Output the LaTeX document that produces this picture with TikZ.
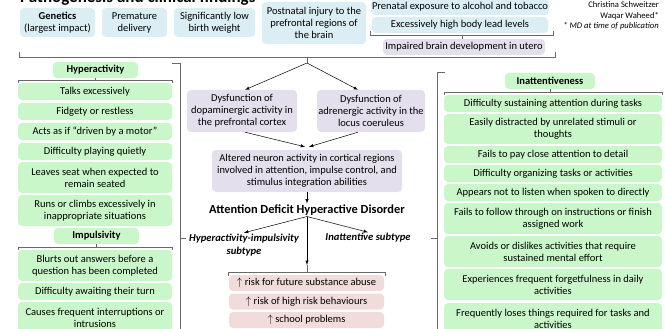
\documentclass[tikz,border=0pt]{standalone}
\usepackage{fontspec}
\setmainfont{Carlito}

\definecolor{causeblue}{RGB}{219,238,244}
\definecolor{signgreen}{RGB}{202,247,202}
\definecolor{mechpurple}{RGB}{228,223,236}
\definecolor{riskpink}{RGB}{242,220,219}
\definecolor{bracegray}{RGB}{105,105,105}

\tikzset{
    box/.style={rounded corners=4pt, align=center, inner sep=1pt, font=\fontsize{10.5}{12}\selectfont},
    cause/.style={box, fill=causeblue},
    sign/.style={box, fill=signgreen},
    signhead/.style={sign, font=\fontsize{10.5}{12}\selectfont\bfseries, minimum height=16},
    mech/.style={box, fill=mechpurple},
    risk/.style={box, fill=riskpink, minimum width=155, minimum height=16},
    brace/.style={bracegray, line width=0.6pt},
    link/.style={->, >=latex, line width=0.5pt},
    subtype/.style={align=center, inner sep=1pt, font=\fontsize{10.6}{13}\selectfont\bfseries\itshape}
}

\begin{document}
\begin{tikzpicture}[x=1pt, y=-1pt]
        \useasboundingbox (0,0) rectangle (665,329);

        % title (cut off at the top)
        \node[anchor=base west, inner sep=0pt, font=\fontsize{17}{17}\selectfont\bfseries] (title) at (20,2.5) {Pathogenesis and clinical findings};

        \node[anchor=east, align=right, inner sep=0pt, font=\fontsize{8.6}{10.5}\selectfont] (authors) at (659,16) {Christina Schweitzer\\Waqar Waheed*\\\textit{* MD at time of publication}};

        % causes
        \node[cause, minimum width=75, minimum height=29] (genetics) at (57.5,22.5) {\textbf{Genetics}\\(largest impact)};
        \node[cause, minimum width=65, minimum height=29] (premature) at (134.5,22.5) {Premature\\delivery};
        \node[cause, minimum width=81, minimum height=29] (weight) at (214.5,22.5) {Significantly low\\birth weight};
        \node[cause, minimum width=104, minimum height=42] (injury) at (314,23) {Postnatal injury to the\\prefrontal regions of\\the brain};
        \node[cause, minimum width=176, minimum height=16] (alcohol) at (460,7) {Prenatal exposure to alcohol and tobacco};
        \node[cause, minimum width=176, minimum height=16] (lead) at (460,25) {Excessively high body lead levels};
        \node[mech, minimum width=162, minimum height=16] (utero) at (464,47) {Impaired brain development in utero};

        \draw[brace] (370,31) -- (370,35) -- (553,35) -- (553,31);
        \draw[brace] (462,35) -- (utero.north -| 462,0);

        \draw[brace] (19,52) -- (19,57) -- (555,57) -- (555,52);
        \draw[brace] (307,57) -- (307,63) coordinate (split);

        % mechanism
        \node[mech, minimum width=110, minimum height=42] (dopa) at (242,111) {Dysfunction of\\dopaminergic activity in\\the prefrontal cortex};
        \node[mech, minimum width=108, minimum height=42] (adren) at (371,111) {Dysfunction of\\adrenergic activity in the\\locus coeruleus};
        \draw[link] (split) -- ([xshift=3]dopa.north);
        \draw[link] (split) -- ([xshift=-13]adren.north);

        \node[mech, minimum width=190, minimum height=42] (altered) at (307,171) {Altered neuron activity in cortical regions\\involved in attention, impulse control, and\\stimulus integration abilities};
        \draw[link] ([xshift=3]dopa.south) -- ([xshift=-2,yshift=3]altered.north);
        \draw[link] ([xshift=-13]adren.south) -- ([xshift=2,yshift=3]altered.north);

        \node[inner sep=1pt, font=\fontsize{12.4}{14}\selectfont\bfseries] (adhd) at (307,210) {Attention Deficit Hyperactive Disorder};
        \draw[link] (altered.south) -- (adhd.north);

        \node[subtype] (hisub) at (244,245) {Hyperactivity-impulsivity\\subtype};
        \node[subtype] (insub) at (368,238) {Inattentive subtype};
        \draw[link] (adhd.south) -- (hisub.north);
        \draw[link] (adhd.south) -- (insub.north);

        \coordinate (riskin) at (307,265);
        \draw[link] (adhd.south) -- (riskin);
        \draw[brace] (riskin) -- (307,272);
        \draw[brace] (228,276) -- (228,272) -- (385,272) -- (385,276);

        \node[risk] (abuse) at (306.5,283) {$\uparrow$ risk for future substance abuse};
        \node[risk] (behave) at (306.5,301.5) {$\uparrow$ risk of high risk behaviours};
        \node[risk] (school) at (306.5,320) {$\uparrow$ school problems};

        % hyperactivity / impulsivity
        \draw[brace] (172,63) -- (180,63) -- (180,340);
        \draw[brace] (180,238) -- (186,238);

        \node[signhead, minimum width=85] (hyper) at (95.5,70) {Hyperactivity};
        \draw[brace] (18,83) -- (18,80) -- (172,80) -- (172,83);
        \draw[brace] (hyper.south) -- (95.5,80);

        \node[sign, minimum width=154, minimum height=17] (talks) at (95,91.5) {Talks excessively};
        \node[sign, minimum width=154, minimum height=17] (fidget) at (95,111.5) {Fidgety or restless};
        \node[sign, minimum width=154, minimum height=17] (motor) at (95,131.5) {Acts as if “driven by a motor”};
        \node[sign, minimum width=154, minimum height=17] (quiet) at (95,151.5) {Difficulty playing quietly};
        \node[sign, minimum width=154, minimum height=31] (seat) at (95,177.5) {Leaves seat when expected to\\remain seated};
        \node[sign, minimum width=154, minimum height=31] (climbs) at (95,210.5) {Runs or climbs excessively in\\inappropriate situations};

        \node[signhead, minimum width=85] (impuls) at (96.5,236) {Impulsivity};
        \draw[brace] (18,250) -- (18,247) -- (172,247) -- (172,250);
        \draw[brace] (impuls.south) -- (96.5,247);

        \node[sign, minimum width=154, minimum height=31] (blurts) at (95,265.5) {Blurts out answers before a\\question has been completed};
        \node[sign, minimum width=154, minimum height=17] (awaits) at (95,291.5) {Difficulty awaiting their turn};
        \node[sign, minimum width=154, minimum height=31] (interrupts) at (95,317.5) {Causes frequent interruptions or\\intrusions};

        % inattentiveness
        \draw[brace] (445,72) -- (437,72) -- (437,340);
        \draw[brace] (437,238) -- (431,238);

        \node[signhead, minimum width=90] (inatt) at (550,81) {Inattentiveness};
        \draw[brace] (444,95) -- (444,92) -- (662,92) -- (662,95);
        \draw[brace] (inatt.south) -- (550,92);

        \node[sign, minimum width=218, minimum height=17] (sustain) at (553,103.5) {Difficulty sustaining attention during tasks};
        \node[sign, minimum width=218, minimum height=30] (distract) at (553,129) {Easily distracted by unrelated stimuli or\\thoughts};
        \node[sign, minimum width=218, minimum height=17] (detail) at (553,154.5) {Fails to pay close attention to detail};
        \node[sign, minimum width=218, minimum height=17] (organize) at (553,173.5) {Difficulty organizing tasks or activities};
        \node[sign, minimum width=218, minimum height=17] (listen) at (553,192.5) {Appears not to listen when spoken to directly};
        \node[sign, minimum width=218, minimum height=31] (follow) at (553,218.5) {Fails to follow through on instructions or finish\\assigned work};
        \node[sign, minimum width=218, minimum height=31] (avoid) at (553,251.5) {Avoids or dislikes activities that require\\sustained mental effort};
        \node[sign, minimum width=218, minimum height=31] (forget) at (553,284.5) {Experiences frequent forgetfulness in daily\\activities};
        \node[sign, minimum width=218, minimum height=31] (loses) at (553,318.5) {Frequently loses things required for tasks and\\activities};
\end{tikzpicture}
\end{document}
